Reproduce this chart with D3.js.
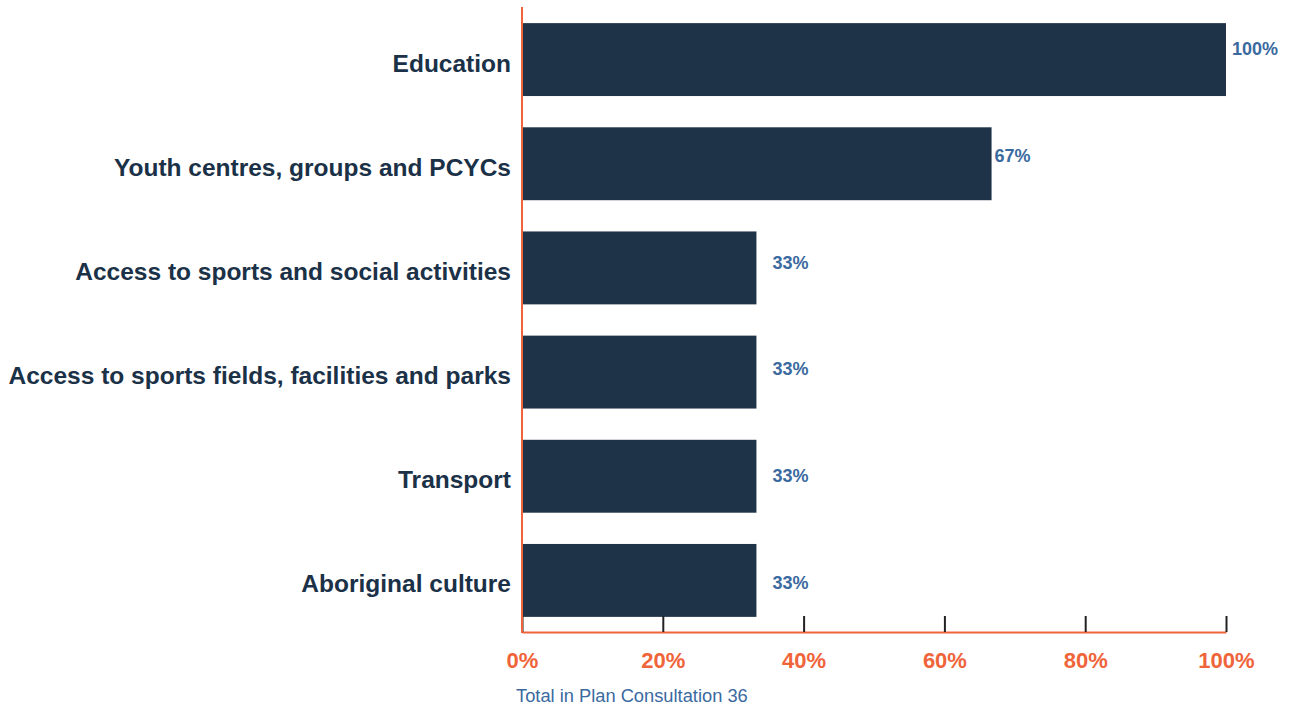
<!DOCTYPE html>
<html><head><meta charset="utf-8">
<script src="https://cdn.jsdelivr.net/npm/d3@7"></script>
<style>body{margin:0;background:#fff;font-family:"Liberation Sans",Arial,sans-serif}</style>
</head><body>
<svg id="c" width="1292" height="707"></svg>
<script>
const categories = ["Education","Youth centres, groups and PCYCs","Access to sports and social activities","Access to sports fields, facilities and parks","Transport","Aboriginal culture"];
const values = [100, 66.7, 33.3, 33.3, 33.3, 33.3];
const valueLabels = ["100%","67%","33%","33%","33%","33%"];
const tickValues = [0,20,40,60,80,100];
const footnote = "Total in Plan Consultation 36";
const labelDx = [6, 3, 16, 16, 16, 16];

const svg = d3.select("#c");
const x = d3.scaleLinear().domain([0,100]).range([522,1226]);
const y = d3.scaleBand().domain(categories).range([7.5,632.5]).paddingInner(0.3).paddingOuter(0.15);
const yLab = d3.scalePoint().domain(categories).range([49,583]);

// bars
svg.selectAll("rect.bar").data(categories).join("rect")
  .attr("x", x(0)).attr("y", d=>y(d))
  .attr("width", (d,i)=>x(values[i])-x(0)).attr("height", y.bandwidth())
  .attr("fill","#1f3348");

// x axis
const xAxis = d3.axisBottom(x).tickValues(tickValues).tickFormat(d=>d+"%").tickSizeInner(-16).tickSizeOuter(0).tickPadding(20);
const gx = svg.append("g").attr("transform","translate(0,632)").call(xAxis);
gx.select(".domain").attr("stroke","#f0643a").attr("stroke-width",2);
gx.selectAll(".tick line").attr("stroke","#222").attr("stroke-width",2);
gx.selectAll(".tick text").attr("fill","#f0643a").attr("font-size",22).attr("font-weight","bold")
  .attr("font-family","Liberation Sans, Arial, sans-serif");

// vertical y line
svg.append("line").attr("x1",x(0)).attr("x2",x(0)).attr("y1",7).attr("y2",633)
  .attr("stroke","#f0643a").attr("stroke-width",2);

// category labels
svg.selectAll("text.cat").data(categories).join("text")
  .attr("x", x(0)-11).attr("y", d=>y(d)+y.bandwidth()/2+3.5)
  .attr("text-anchor","end").attr("dominant-baseline","central")
  .attr("font-size",24.5).attr("font-weight","bold").attr("fill","#1b3147")
  .text(d=>d);

// value labels
svg.selectAll("text.val").data(categories).join("text")
  .attr("x", (d,i)=>x(values[i])+labelDx[i]).attr("y", d=>yLab(d))
  .attr("dominant-baseline","central")
  .attr("font-size",18).attr("font-weight","bold").attr("fill","#3a6aa0")
  .text((d,i)=>valueLabels[i]);

svg.append("text").attr("x",516).attr("y",695).attr("dominant-baseline","central")
  .attr("font-size",18.3).attr("fill","#3a6aa0").text(footnote);
</script>
</body></html>
